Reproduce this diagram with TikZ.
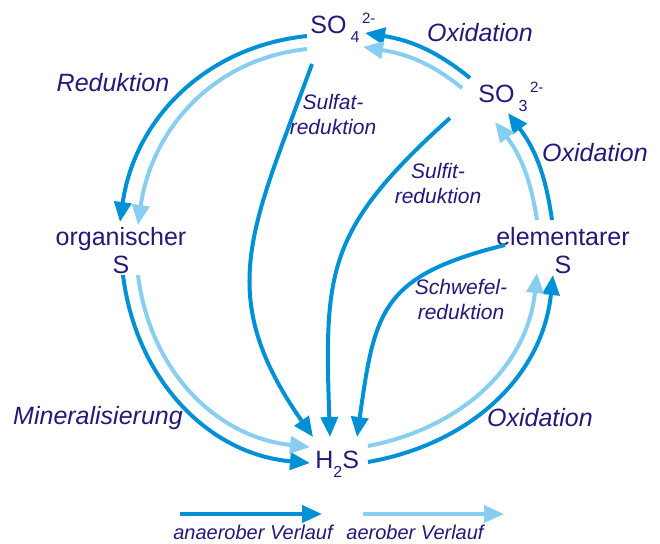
\documentclass[tikz,border=0pt]{standalone}
\usepackage{fontspec}
\setmainfont{Liberation Sans}
\usetikzlibrary{arrows.meta}
\definecolor{navy}{RGB}{35,25,120}
\definecolor{dkblue}{RGB}{0,144,214}
\definecolor{ltblue}{RGB}{135,206,240}
\newcommand{\lowsub}[1]{\raisebox{-4.5pt}{\fontsize{8}{8}\selectfont #1}}
\newcommand{\highsup}[1]{\raisebox{5pt}{\fontsize{7.5}{8}\selectfont\,#1}}
\begin{document}
\begin{tikzpicture}[x=0.5pt,y=-0.5pt,
  dk/.style={draw=dkblue,line width=2pt,-{Triangle[length=10pt,width=8.5pt]}},
  lt/.style={draw=ltblue,line width=2pt,-{Triangle[length=10pt,width=8.5pt]}},
  spec/.style={text=navy,font=\fontsize{12.5}{14}\selectfont,align=center,inner sep=0pt},
  proc/.style={text=navy,font=\fontsize{12.5}{15}\selectfont\itshape,inner sep=0pt},
  sub/.style={text=navy,font=\fontsize{10.5}{12.5}\selectfont\itshape,align=center,inner sep=0pt},
  leg/.style={text=navy,font=\fontsize{10}{12}\selectfont\itshape,inner sep=0pt}]
\useasboundingbox (0,0) rectangle (660,543);

% species
\node[spec,anchor=base west] (so4) at (310,33) {SO\,\lowsub{4}\highsup{2-}};
\node[spec,anchor=base west] (so3) at (478,102) {SO\,\lowsub{3}\highsup{2-}};
\node[spec,anchor=base] (orgs) at (121,273) {organischer\\S};
\node[spec,anchor=base] (elems) at (563,273) {elementarer\\S};
\node[spec,anchor=base west] (h2s) at (315,468) {H\lowsub{2}S};

% processes
\node[proc] (red) at (113,83) {Reduktion};
\node[proc] (oxtop) at (480,33) {Oxidation};
\node[proc] (oxright) at (595,153) {Oxidation};
\node[proc] (oxbot) at (540,418) {Oxidation};
\node[proc] (mineral) at (98,418) {Mineralisierung};
\node[sub] (sulfat) at (333,114) {Sulfat-\\reduktion};
\node[sub] (sulfit) at (438,183) {Sulfit-\\reduktion};
\node[sub] (schwefel) at (461,299) {Schwefel-\\reduktion};

% outer cycle
\draw[dk] ([shift={(-3,3)}]so4.base west) to[out=186,in=82] ([shift={(-1,-51)}]orgs.base);
\draw[lt] ([shift={(-3,16)}]so4.base west) to[out=186,in=82] ([shift={(17,-48)}]orgs.base);
\draw[dk] ([shift={(2,2)}]orgs.base) to[out=-83,in=175] ([shift={(-5,-5)}]h2s.base west);
\draw[lt] ([shift={(17,2)}]orgs.base) to[out=-83,in=174] ([shift={(-5,-21)}]h2s.base west);
\draw[dk] ([shift={(53,-6)}]h2s.base west) to[out=10,in=-96] ([shift={(-10,2)}]elems.base);
\draw[lt] ([shift={(53,-22)}]h2s.base west) to[out=11,in=-96] ([shift={(-26,0)}]elems.base);
\draw[dk] ([shift={(-11,-53)}]elems.base) to[out=98,in=-53] ([shift={(30,11)}]so3.base west);
\draw[lt] ([shift={(-26,-53)}]elems.base) to[out=99,in=-52] ([shift={(17,20)}]so3.base west);
\draw[dk] ([shift={(-8,-24)}]so3.base west) to[out=141,in=-9] ([shift={(55,0)}]so4.base west);
\draw[lt] ([shift={(-16,-14)}]so3.base west) to[out=141,in=-9] ([shift={(53,14)}]so4.base west);

% reductions to H2S
\draw[dk] ([shift={(2,31)}]so4.base west) to[out=250,in=125,looseness=1.2] ([shift={(-2,-31)}]h2s.base west);
\draw[dk] ([shift={(-28,16)}]so3.base west) to[out=222,in=92,looseness=1.25] ([shift={(15,-31)}]h2s.base west);
\draw[dk] ([shift={(-58,-28)}]elems.base) to[out=194,in=82,looseness=1.35] ([shift={(42,-31)}]h2s.base west);

% legend
\node[leg] (analeg) at (253,532) {anaerober Verlauf};
\node[leg] (aerleg) at (415,532) {aerober Verlauf};
\coordinate (ana1) at (180,514);
\coordinate (ana2) at (322,514);
\coordinate (aer1) at (363,514);
\coordinate (aer2) at (504,514);
\draw[dk] (ana1) -- (ana2);
\draw[lt] (aer1) -- (aer2);
\end{tikzpicture}
\end{document}
